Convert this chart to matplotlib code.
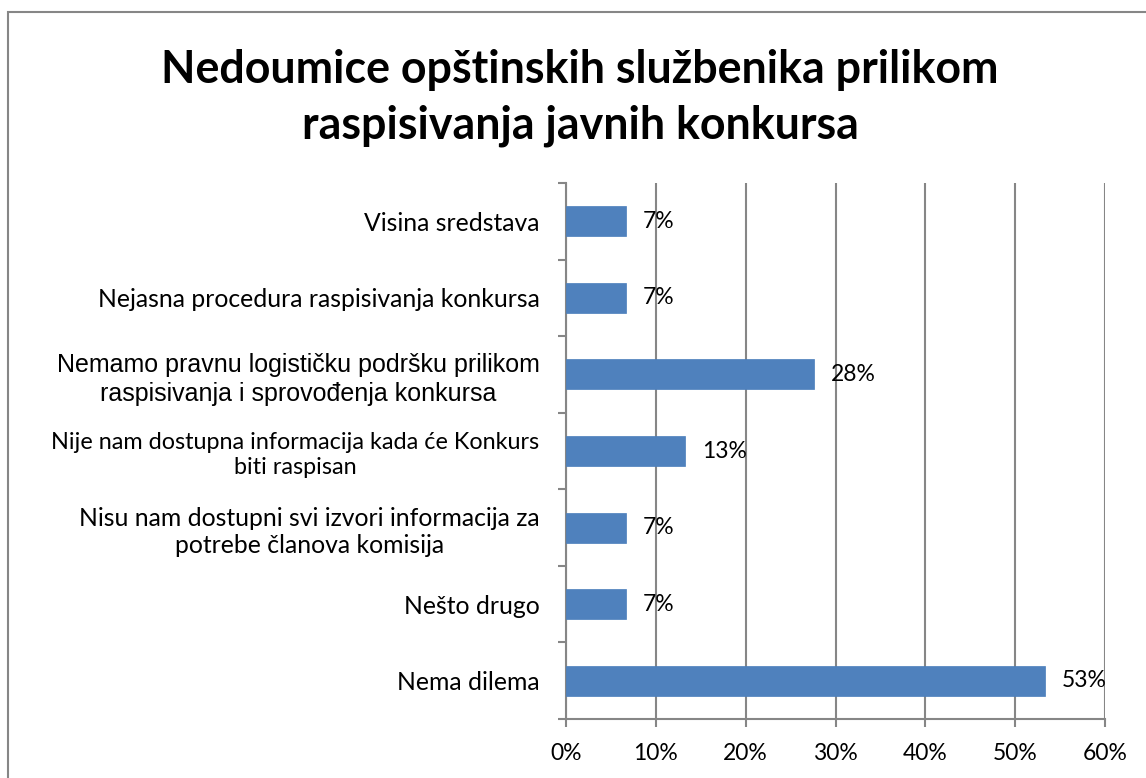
import matplotlib.pyplot as plt
from matplotlib.patches import Rectangle

# podaci sa grafikona (odozgo nadole)
categories = [
    "Visina sredstava",
    "Nejasna procedura raspisivanja konkursa",
    "Nemamo pravnu logističku podršku prilikom\nraspisivanja i sprovođenja konkursa",
    "Nije nam dostupna informacija kada će Konkurs\nbiti raspisan",
    "Nisu nam dostupni svi izvori informacija za\npotrebe članova komisija",
    "Nešto drugo",
    "Nema dilema",
]
values = [0.067, 0.067, 0.276, 0.133, 0.067, 0.067, 0.533]
value_labels = ["7%", "7%", "28%", "13%", "7%", "7%", "53%"]
xticks = [0, 0.1, 0.2, 0.3, 0.4, 0.5, 0.6]
xtick_labels = ["0%", "10%", "20%", "30%", "40%", "50%", "60%"]

W, H = 1146, 778
fig = plt.figure(figsize=(W / 100, H / 100), dpi=100)

# okvir grafikona
fig.patches.append(Rectangle((8 / W, 0 - 0.05), 1.1, 1 - 12 / H + 0.05,
                             transform=fig.transFigure, fill=False,
                             edgecolor="#868686", linewidth=1.5))

ax = fig.add_axes([566 / W, 1 - 719 / H, (1105 - 566) / W, (719 - 183) / H])

grid_c = "#868686"
ypos = list(range(len(categories)))
ax.barh(ypos, values, height=0.39, color="#4F81BD", edgecolor="#4A7EBB", linewidth=0.5, zorder=3)
ax.set_ylim(len(categories) - 0.5, -0.5)
ax.set_xlim(0, 0.6)

for y, v, t in zip(ypos, values, value_labels):
    ax.annotate(t, (v, y), xytext=(12, 0), textcoords="offset points",
                ha="left", va="center", fontsize=16.5, family="Lato", zorder=4)

ax.set_xticks(xticks)
ax.set_xticklabels(xtick_labels, family="Lato", fontsize=16.5)
ax.xaxis.grid(True, color=grid_c, linewidth=1.5, zorder=0)
ax.tick_params(axis="x", length=6, width=1.5, color=grid_c, pad=11)

ax.set_yticks(ypos)
ax.set_yticklabels(categories)
for lab in ax.get_yticklabels():
    lab.set_multialignment("center")
    lab.set_linespacing(1.25)
    if lab.get_text().startswith("Nemamo"):
        lab.set_family("Liberation Sans")
        lab.set_fontsize(18)
    elif lab.get_text().startswith("Nije"):
        lab.set_family("Lato")
        lab.set_fontsize(16.8)
    else:
        lab.set_family("Lato")
        lab.set_fontsize(17.8)
ax.tick_params(axis="y", which="major", length=0, pad=19)
ax.set_yticks([i - 0.5 for i in range(len(categories) + 1)], minor=True)
ax.tick_params(axis="y", which="minor", length=6, width=1.5, color=grid_c)

for s in ["top", "right"]:
    ax.spines[s].set_visible(False)
for s in ["left", "bottom"]:
    ax.spines[s].set_color(grid_c)
    ax.spines[s].set_linewidth(1.5)

fig.text(580 / W, 1 - 98 / H, "Nedoumice opštinskih službenika prilikom\nraspisivanja javnih konkursa",
         ha="center", va="center", fontsize=32.2, fontweight="bold", family="Lato",
         linespacing=1.42)

fig.savefig("out.png", dpi=100)
